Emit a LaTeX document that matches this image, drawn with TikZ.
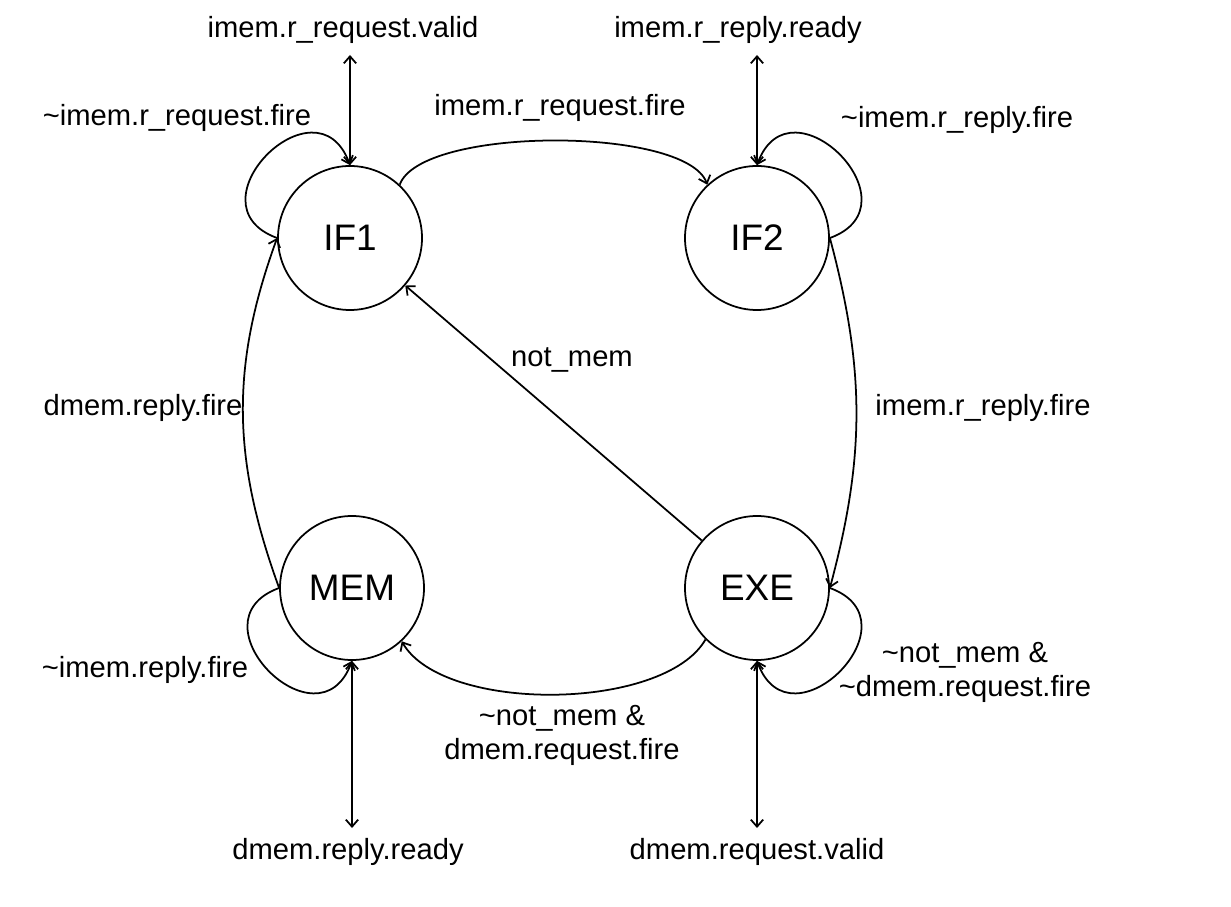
\documentclass[tikz,border=0pt]{standalone}
\usepackage{fontspec}
\setmainfont{Liberation Sans}
\usetikzlibrary{arrows.meta}
\begin{document}
\begin{tikzpicture}[
        >={Straight Barb[length=4pt,width=7pt]},
        state/.style={circle, draw=black, line width=1pt, minimum size=2.88cm, inner sep=0pt, font=\fontsize{21}{25}\selectfont},
        lbl/.style={align=center, font=\fontsize{16.6}{19.4}\selectfont},
        trans/.style={line width=1pt, ->},
        port/.style={line width=1pt, <->}
    ]
                \useasboundingbox (0,0) rectangle (24.62,18.12);

                \node [state] (IF1) at (7.00,13.36) {IF1};
                \node [state] (IF2) at (15.14,13.36) {IF2};
                \node [state] (MEM) at (7.04,6.36) {MEM};
                \node [state] (EXE) at (15.14,6.36) {EXE};

                % memory ports
                \coordinate (IRQ) at (7.00,17.02);
                \coordinate (IRP) at (15.14,17.02);
                \coordinate (DRP) at (7.04,1.56);
                \coordinate (DRQ) at (15.14,1.56);
                \draw[port] (IRQ) -- (IF1.north);
                \draw[port] (IRP) -- (IF2.north);
                \draw[port] (DRP) -- (MEM.south);
                \draw[port] (DRQ) -- (EXE.south);

                % self loops
                \draw[trans] (IF1.west) to[out=160, in=110, looseness=2.4] (IF1.north);
                \draw[trans] (IF2.east) to[out=20, in=70, looseness=2.4] (IF2.north);
                \draw[trans] (MEM.west) to[out=200, in=250, looseness=2.4] (MEM.south);
                \draw[trans] (EXE.east) to[out=-20, in=-70, looseness=2.4] (EXE.south);

                % transitions
                \draw[trans] (IF1.47) to[out=70, in=110, looseness=0.52] (IF2.133);
                \draw[trans] (IF2.east) to[out=-75, in=75] (EXE.east);
                \draw[trans] (EXE.225) to[out=240, in=300, looseness=0.7] (MEM.-47);
                \draw[trans] (MEM.west) to[out=110, in=-110] (IF1.west);
                \draw[trans] (EXE) -- (IF1);

                \node [lbl] (lIRQ) at (6.86,17.52) {imem.r\_request.valid};
                \node [lbl] (lIRP) at (14.76,17.52) {imem.r\_reply.ready};
                \node [lbl] (lL1) at (3.54,15.76) {\textasciitilde imem.r\_request.fire};
                \node [lbl] (lT12) at (11.2,15.96) {imem.r\_request.fire};
                \node [lbl] (lL2) at (19.14,15.72) {\textasciitilde imem.r\_reply.fire};
                \node [lbl] (lNM) at (11.44,10.92) {not\_mem};
                \node [lbl] (lTM1) at (2.86,9.96) {dmem.reply.fire};
                \node [lbl] (lT2E) at (19.66,9.96) {imem.r\_reply.fire};
                \node [lbl] (lLM) at (2.9,4.72) {\textasciitilde imem.reply.fire};
                \node [lbl] (lLE) at (19.3,4.68) {\textasciitilde not\_mem \&\\\textasciitilde dmem.request.fire};
                \node [lbl] (lTEM) at (11.24,3.42) {\textasciitilde not\_mem \&\\dmem.request.fire};
                \node [lbl] (lDRP) at (6.96,1.08) {dmem.reply.ready};
                \node [lbl] (lDRQ) at (15.14,1.08) {dmem.request.valid};
            \end{tikzpicture}
\end{document}
